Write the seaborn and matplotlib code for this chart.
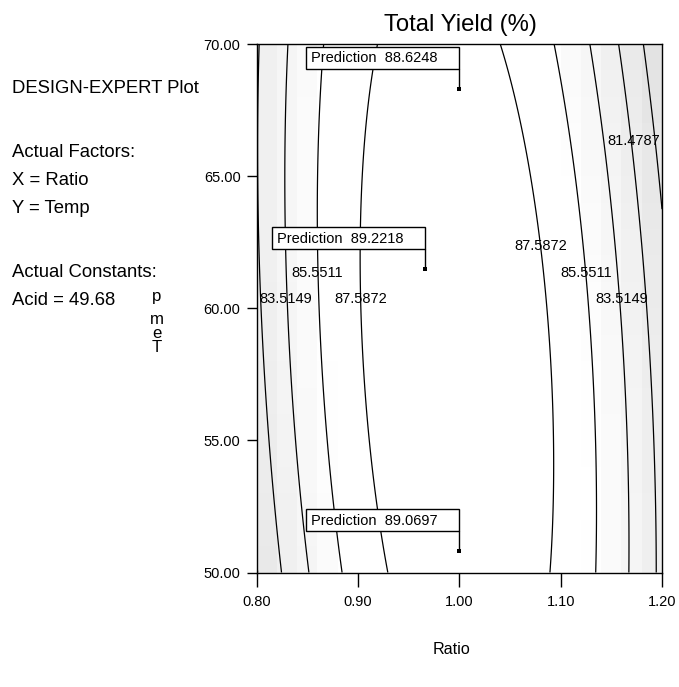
import numpy as np
import matplotlib
matplotlib.use("Agg")
import matplotlib.pyplot as plt
import matplotlib.transforms as mtransforms
from matplotlib.patches import Rectangle
from matplotlib.lines import Line2D
from matplotlib import font_manager
import seaborn as sns

# Design space: Ratio (x) and Temp (y), Acid held constant
ratio_range = [0.80, 1.20]
temp_range = [50.0, 70.0]
ratio_ticks = [0.80, 0.90, 1.00, 1.10, 1.20]
temp_ticks = [50.0, 55.0, 60.0, 65.0, 70.0]

# Quadratic model of total yield in coded factors A (Ratio) and B (Temp)
model_terms = ["intercept", "A", "B", "A2", "B2", "AB"]
model_coefs = [89.434, -0.466, -0.335, -8.80, -0.795, -1.302]

contour_levels = [79.4425, 81.4787, 83.5149, 85.5511, 87.5872]

# Contour label placement: level index and (ratio, temp) anchor
label_level_idx = [1, 2, 3, 4, 4, 3, 2]
label_ratio = [1.172, 0.829, 0.8597, 0.9025, 1.0806, 1.1256, 1.160]
label_temp = [66.33, 60.35, 61.35, 60.35, 62.36, 61.35, 60.35]

# Flagged point predictions
pred_ratio = [1.00, 0.966, 1.00]
pred_temp = [68.30, 61.47, 50.81]
pred_value = [88.6248, 89.2218, 89.0697]

side_lines = ["DESIGN-EXPERT Plot", "Actual Factors:", "X = Ratio", "Y = Temp",
              "Actual Constants:", "Acid = 49.68"]
side_baselines_px = [93, 157, 185, 213, 277, 305]


def total_yield(ratio, temp):
    c = dict(zip(model_terms, model_coefs))
    a = (ratio - 1.0) / 0.2
    b = (temp - 60.0) / 10.0
    return (c["intercept"] + c["A"] * a + c["B"] * b
            + c["A2"] * a ** 2 + c["B2"] * b ** 2 + c["AB"] * a * b)


sns.set_style("ticks")
installed = {f.name for f in font_manager.fontManager.ttflist}
REG = "Liberation Sans"
NARROW = "Liberation Sans Narrow" if "Liberation Sans Narrow" in installed else REG
narrow_scale = 1.0 if NARROW != REG else 0.86
plt.rcParams["font.family"] = [REG, "DejaVu Sans"]
for key in ["text.color", "axes.labelcolor", "xtick.color", "ytick.color",
            "axes.edgecolor", "xtick.labelcolor", "ytick.labelcolor"]:
    plt.rcParams[key] = "black"

W, H = 679, 687
fig = plt.figure(figsize=(W / 100, H / 100), dpi=100)
fig.patch.set_facecolor("white")

ax_l, ax_r, ax_t, ax_b = 256.5, 662.0, 44.0, 572.5
ax = fig.add_axes([ax_l / W, 1 - ax_b / H, (ax_r - ax_l) / W, (ax_b - ax_t) / H])
ax.set_facecolor("white")

# Blocky grey shading of the response (low yield = darker)
nx, ny = 20, 20
xe = np.linspace(*ratio_range, nx + 1)
ye = np.linspace(*temp_range, ny + 1)
xc = 0.5 * (xe[:-1] + xe[1:])
yc = 0.5 * (ye[:-1] + ye[1:])
XC, YC = np.meshgrid(xc, yc)
shade_cmap = sns.blend_palette(["#e0e0e0", "#ffffff"], as_cmap=True)
ax.pcolormesh(xe, ye, total_yield(XC, YC), cmap=shade_cmap, vmin=78.0, vmax=86.0,
              shading="flat", zorder=0)

# Contour lines
xf = np.linspace(*ratio_range, 301)
yf = np.linspace(*temp_range, 301)
XF, YF = np.meshgrid(xf, yf)
ax.contour(XF, YF, total_yield(XF, YF), levels=contour_levels,
           colors="black", linewidths=0.9, zorder=2)

for i, lx, ly in zip(label_level_idx, label_ratio, label_temp):
    ax.text(lx, ly, f"{contour_levels[i]:.4f}", ha="center", va="center",
            fontsize=10.5, zorder=3)

# Prediction flags: box above-left of each point, leader line down to it
box_w, box_h, lead = 153, 22, 20
for px, py, pv in zip(pred_ratio, pred_temp, pred_value):
    tr = mtransforms.Affine2D() + mtransforms.ScaledTranslation(px, py, ax.transData)
    ax.add_patch(Rectangle((-box_w, lead), box_w, box_h, transform=tr,
                           facecolor="white", edgecolor="black", linewidth=1.0,
                           zorder=4, clip_on=False))
    ax.add_line(Line2D([0, 0], [0, lead], transform=tr, color="black",
                       linewidth=1.0, zorder=4, clip_on=False))
    ax.text(-box_w + 5, lead + box_h / 2 - 0.5, f"Prediction  {pv:.4f}", transform=tr,
            ha="left", va="center", fontsize=10.5, zorder=5)

sns.scatterplot(x=pred_ratio, y=pred_temp, ax=ax, color="black", marker="s",
                s=5, linewidth=0, legend=False, zorder=6)

ax.set_xlim(*ratio_range)
ax.set_ylim(*temp_range)
ax.set_xticks(ratio_ticks)
ax.set_xticklabels([f"{v:.2f}" for v in ratio_ticks])
ax.set_yticks(temp_ticks)
ax.set_yticklabels([f"{v:.2f}" for v in temp_ticks])
ax.set_xlabel("")
ax.set_ylabel("")
ax.tick_params(axis="x", length=10, width=1.0, pad=6, labelsize=10.5, colors="black")
ax.tick_params(axis="y", length=7.5, width=1.0, pad=4, labelsize=10.5, colors="black")
for s in ax.spines.values():
    s.set_visible(True)
    s.set_color("black")
    s.set_linewidth(1.0)

# Title, axis labels and the side notes
fig.text(460 / W, 1 - 31 / H, "Total Yield (%)", ha="center", va="baseline",
         fontsize=20 * narrow_scale, family=[NARROW, "DejaVu Sans"])
fig.text(451 / W, 1 - 650 / H, "Ratio", ha="center", va="center",
         fontsize=13.5 * narrow_scale, family=[NARROW, "DejaVu Sans"])
for ch, cy in zip("pmeT", [296, 319, 333, 347]):
    fig.text(157 / W, 1 - cy / H, ch, ha="center", va="center",
             fontsize=14 * narrow_scale, family=[NARROW, "DejaVu Sans"])
for txt, by in zip(side_lines, side_baselines_px):
    fig.text(11.5 / W, 1 - by / H, txt, ha="left", va="baseline",
             fontsize=15.5 * narrow_scale, family=[NARROW, "DejaVu Sans"])

fig.savefig("out.png", dpi=100, facecolor="white")
